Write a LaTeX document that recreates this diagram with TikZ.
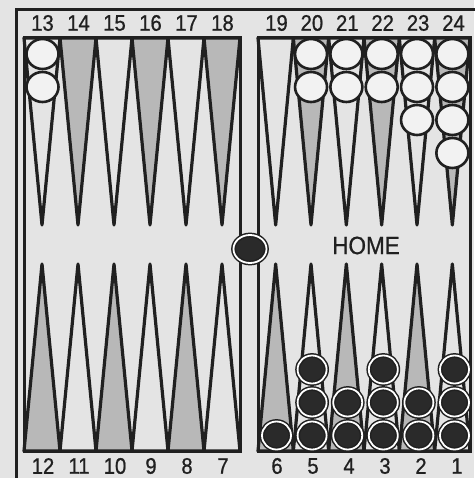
\documentclass[tikz,border=0pt]{standalone}
\usepackage{fontspec}
\setmainfont{Liberation Sans}
\newfontfamily\labfont[FakeStretch=0.9,FakeBold=0.8]{Liberation Sans}
\usetikzlibrary{shapes.geometric}
\definecolor{bg}{HTML}{E4E4E4}
\definecolor{shade}{HTML}{B8B8B8}
\definecolor{ink}{HTML}{202020}
\definecolor{wchk}{HTML}{F2F2F2}
\definecolor{bchk}{HTML}{2A2A2A}
\begin{document}
\begin{tikzpicture}[x=1pt,y=-1pt,
  tri/.style={draw=ink, line width=3.2pt, line join=round},
  triw/.style={tri, fill=bg},
  tris/.style={tri, fill=shade},
  board/.style={draw=ink, line width=3pt},
  frame/.style={draw=ink, line width=3.6pt},
  wck/.style={ellipse, draw=ink, fill=wchk, line width=2.6pt, minimum width=32pt, minimum height=30pt, inner sep=0pt},
  bck/.style={ellipse, draw=ink, double=white, double distance=1.8pt, line width=1.5pt, fill=bchk, minimum width=29pt, minimum height=28pt, inner sep=0pt},
  barck/.style={bck, minimum width=33pt, minimum height=28pt},
  lab/.style={font=\labfont\fontsize{22.5}{22.5}\selectfont, inner sep=0pt, text=ink},
  hometxt/.style={font=\labfont\fontsize{25}{25}\selectfont, inner sep=0pt, text=ink}]
\useasboundingbox (0,0) rectangle (474,478);
\fill[bg] (0,0) rectangle (474,478);
% outer frame (cropped)
\draw[frame] (16.5,490) -- (16.5,9.5) -- (490,9.5);
% ---- left board points
\foreach \i in {0,...,5}{
  \pgfmathsetmacro{\xl}{24+36*\i}
  \pgfmathsetmacro{\xr}{\xl+36}
  \pgfmathsetmacro{\xc}{\xl+18}
  \ifodd\i
    \draw[tris] (\xl,38) -- (\xc,225) -- (\xr,38) -- cycle;
    \draw[triw] (\xl,451) -- (\xc,264) -- (\xr,451) -- cycle;
  \else
    \draw[triw] (\xl,38) -- (\xc,225) -- (\xr,38) -- cycle;
    \draw[tris] (\xl,451) -- (\xc,264) -- (\xr,451) -- cycle;
  \fi
}
% ---- right board points
\foreach \i in {0,...,5}{
  \pgfmathsetmacro{\xl}{258+35.333*\i}
  \pgfmathsetmacro{\xr}{\xl+35.333}
  \pgfmathsetmacro{\xc}{\xl+17.667}
  \ifodd\i
    \draw[tris] (\xl,38) -- (\xc,225) -- (\xr,38) -- cycle;
    \draw[triw] (\xl,451) -- (\xc,264) -- (\xr,451) -- cycle;
  \else
    \draw[triw] (\xl,38) -- (\xc,225) -- (\xr,38) -- cycle;
    \draw[tris] (\xl,451) -- (\xc,264) -- (\xr,451) -- cycle;
  \fi
}
% boards
\draw[board] (24,38) rectangle (240,451);
\draw[board] (258,38) rectangle (470,451);
% labels
\foreach \n [count=\k from 0] in {13,14,15,16,17,18}{
  \node[lab] (t\n) at (42.5+36*\k,23) {\n};
}
\foreach \n [count=\k from 0] in {19,20,21,22,23,24}{
  \node[lab] (t\n) at (276.5+35.4*\k,23) {\n};
}
\foreach \n [count=\k from 0] in {12,11,10,9,8,7}{
  \node[lab] (b\n) at (43+36*\k,466) {\n};
}
\foreach \n [count=\k from 0] in {6,5,4,3,2,1}{
  \node[lab] (b\n) at (277+36*\k,466) {\n};
}
\node[hometxt] (home) at (366,245.5) {HOME};
% white checkers
\node[wck] (w13a) at (42.5,54) {};
\node[wck] (w13b) at (42.5,87) {};
\foreach \p/\n [count=\k from 1] in {20/2,21/2,22/2,23/3,24/4}{
  \pgfmathsetmacro{\cx}{275.7+35.333*\k}
  \foreach \j in {1,...,\n}{
    \pgfmathsetmacro{\cy}{54+33*(\j-1)}
    \node[wck] (w\p-\j) at (\cx,\cy) {};
  }
}
% black checkers
\foreach \p/\n [count=\k from 0] in {6/1,5/3,4/2,3/3,2/2,1/3}{
  \pgfmathsetmacro{\cx}{276.5+35.6*\k}
  \foreach \j in {1,...,\n}{
    \pgfmathsetmacro{\cy}{435.5-33*(\j-1)}
    \node[bck] (k\p-\j) at (\cx,\cy) {};
  }
}
% bar checker
\node[barck] (bar) at (250,249) {};
\end{tikzpicture}
\end{document}
